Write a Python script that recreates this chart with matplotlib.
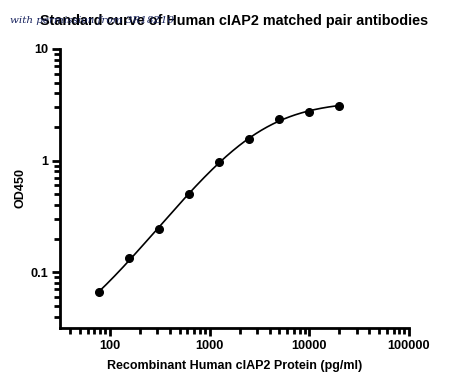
import numpy as np
import matplotlib.pyplot as plt
from matplotlib.ticker import LogLocator, NullFormatter, FixedLocator, FixedFormatter

plt.rcParams['font.family'] = ['Liberation Sans', 'DejaVu Sans']

conc = [78.125, 156.25, 312.5, 625, 1250, 2500, 5000, 10000, 20000]
od450 = [0.066, 0.135, 0.246, 0.497, 0.98, 1.57, 2.35, 2.73, 3.11]

x_ticks = [100, 1000, 10000, 100000]
x_labels = ['100', '1000', '10000', '100000']
y_ticks = [0.1, 1, 10]
y_labels = ['0.1', '1', '10']


def four_pl(p, x):
    a, b, c, d = p
    return d + (a - d) / (1 + (x / c) ** b)


def fit_4pl(x, y, p0, n_iter=200):
    # small Levenberg-Marquardt fit, fitted in log(y)
    p = np.array(p0, dtype=float)
    lam = 1e-2
    res = lambda q: np.log(four_pl(q, x)) - np.log(y)
    for _ in range(n_iter):
        r = res(p)
        J = np.empty((len(x), len(p)))
        for i in range(len(p)):
            dp = np.zeros_like(p)
            dp[i] = 1e-6 * max(abs(p[i]), 1e-3)
            J[:, i] = (res(p + dp) - r) / dp[i]
        A = J.T @ J
        g = J.T @ r
        step = np.linalg.solve(A + lam * np.diag(np.diag(A)), -g)
        p_new = p + step
        if np.all(four_pl(p_new, x) > 0) and np.sum(res(p_new) ** 2) < np.sum(r ** 2):
            p = p_new
            lam *= 0.3
        else:
            lam *= 10
    return p


x = np.array(conc)
y = np.array(od450)
params = fit_4pl(x, y, [0.02, 1.2, 3000, 3.5])

fig = plt.figure(figsize=(4.5, 3.87), dpi=100)
ax = fig.add_axes([0.1333, 0.1525, 0.7756, 0.7209])

xs = np.logspace(np.log10(x[0]), np.log10(x[-1]), 300)
ax.plot(xs, four_pl(params, xs), color='black', lw=1.2)
ax.plot(conc, od450, 'o', color='black', ms=5.5)

ax.set_xscale('log')
ax.set_yscale('log')
ax.set_xlim(31.6, 100000)
ax.set_ylim(0.0316, 10)

ax.xaxis.set_major_locator(FixedLocator(x_ticks))
ax.xaxis.set_major_formatter(FixedFormatter(x_labels))
ax.yaxis.set_major_locator(FixedLocator(y_ticks))
ax.yaxis.set_major_formatter(FixedFormatter(y_labels))
ax.xaxis.set_minor_locator(LogLocator(base=10, subs=np.arange(2, 10)))
ax.yaxis.set_minor_locator(LogLocator(base=10, subs=np.arange(2, 10)))
ax.xaxis.set_minor_formatter(NullFormatter())
ax.yaxis.set_minor_formatter(NullFormatter())

for s in ['top', 'right']:
    ax.spines[s].set_visible(False)
for s in ['left', 'bottom']:
    ax.spines[s].set_linewidth(2)
ax.tick_params(which='major', length=6, width=2, labelsize=9.2, pad=2.5)
ax.tick_params(which='minor', length=4, width=2)
for lab in ax.get_xticklabels() + ax.get_yticklabels():
    lab.set_fontweight('bold')

ax.set_xlabel('Recombinant Human cIAP2 Protein (pg/ml)', fontsize=9, fontweight='bold', labelpad=6)
ax.set_ylabel('OD450', fontsize=9, fontweight='bold', labelpad=3)
ax.set_title('Standard curve of Human cIAP2 matched pair antibodies', fontsize=10.4, fontweight='bold', pad=17)

fig.text(0.022, 0.947, 'with permission from 3R18Z10', fontsize=7.5, style='italic',
         family='DejaVu Serif', color='#1a2560', va='center')

fig.savefig('out.png', dpi=100)
